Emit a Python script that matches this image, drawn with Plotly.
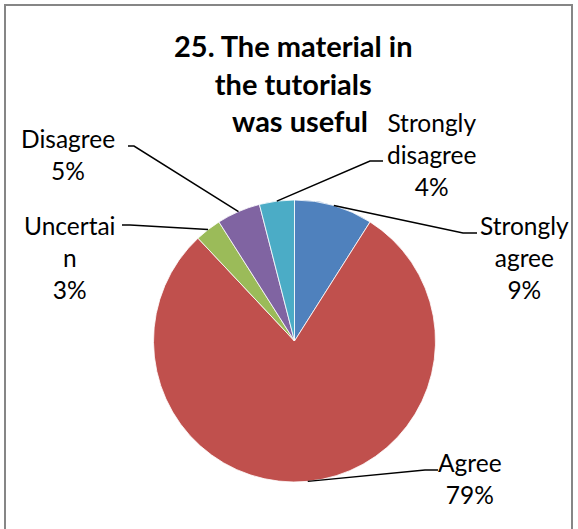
import math
import plotly.graph_objects as go

# ---- data ----
categories = ["Strongly agree", "Agree", "Uncertain", "Disagree", "Strongly disagree"]
values = [9, 79, 3, 5, 4]
label_texts = ["Strongly<br>agree<br>9%", "Agree<br>79%", "Uncertai<br>n<br>3%",
               "Disagree<br>5%", "Strongly<br>disagree<br>4%"]
colors = ["#4F81BD", "#C0504D", "#9BBB59", "#8064A2", "#4BACC6"]
title_text = "25. The material in<br>the tutorials<br>  was useful"

# ---- layout (pixels) ----
W, H = 578, 529
cx, cy, r = 294.5, 341.0, 141.0
# text centre (x, y) and elbow point (x, y) for each label
label_pos = [(524, 257), (470, 478), (70, 257), (68, 154), (431, 154)]
elbow_pos = [((477, 233), (463, 233)), ((438, 470), (425, 470)),
             ((122, 225), (130, 225)), ((128, 146), (134, 146)),
             ((383, 161), (370, 161))]


def px(x):
    return x / W


def py(y):
    return 1 - y / H


fig = go.Figure(go.Pie(
    labels=categories, values=values, sort=False, direction="clockwise",
    rotation=0, textinfo="none", hoverinfo="label+percent",
    marker=dict(colors=colors, line=dict(color="white", width=0.8)),
    domain=dict(x=[px(cx - r), px(cx + r)], y=[py(cy + r), py(cy - r)]),
    showlegend=False,
))

total = sum(values)
cum = 0
shapes = [dict(type="rect", xref="paper", yref="paper",
               x0=px(5), x1=px(572), y0=py(540), y1=py(5),
               line=dict(color="#868686", width=2))]
annotations = []
for i, v in enumerate(values):
    mid = (cum + v / 2) / total * 2 * math.pi
    cum += v
    sx = cx + r * math.sin(mid)
    sy = cy - r * math.cos(mid)
    (ex1, ey1), (ex2, ey2) = elbow_pos[i]
    shapes.append(dict(type="path", xref="paper", yref="paper",
                       path=f"M {px(sx)},{py(sy)} L {px(ex2)},{py(ey2)} L {px(ex1)},{py(ey1)}",
                       line=dict(color="black", width=1.5)))
    tx, ty = label_pos[i]
    annotations.append(dict(text=label_texts[i], x=px(tx), y=py(ty), xref="paper", yref="paper",
                            xanchor="center", yanchor="middle", showarrow=False,
                            font=dict(family="Lato", size=24.5, color="black")))

annotations.append(dict(text="<b>" + title_text + "</b>", x=px(293), y=py(83), xref="paper",
                        yref="paper", xanchor="center", yanchor="middle", showarrow=False,
                        font=dict(family="Lato", size=29, color="black")))

fig.update_layout(width=W, height=H, margin=dict(l=0, r=0, t=0, b=0),
                  paper_bgcolor="white", plot_bgcolor="white",
                  shapes=shapes, annotations=annotations)

fig.write_html("out.html", config={"displayModeBar": False},
               post_script="document.body.style.margin='0';")
